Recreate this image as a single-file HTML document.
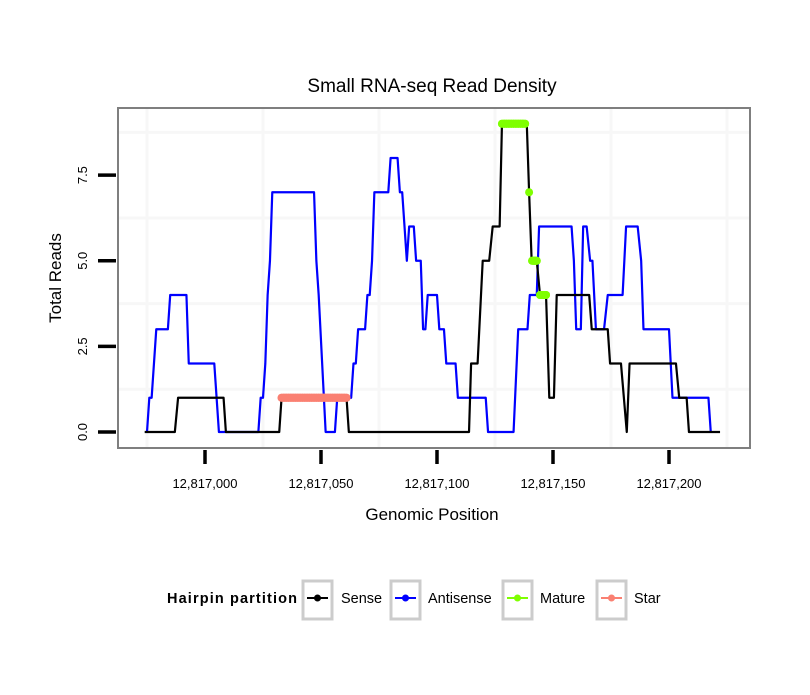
<!DOCTYPE html>
<html><head><meta charset="utf-8"><style>
body{margin:0;background:#fff;font-family:"Liberation Sans",sans-serif}
</style></head><body>
<svg id="chart" width="810" height="690" xmlns="http://www.w3.org/2000/svg">
<rect width="810" height="690" fill="#fff"/>
<text x="432" y="92" text-anchor="middle" font-size="19" fill="#000">Small RNA-seq Read Density</text>
<rect x="118" y="108" width="632" height="340" fill="#fff"/>
<g id="grid"></g>
<g id="series"></g>
<rect x="118" y="108" width="632" height="340" fill="none" stroke="#7f7f7f" stroke-width="2"/>
<g id="axes"></g>
<text x="432" y="520" text-anchor="middle" font-size="17">Genomic Position</text>
<text transform="translate(61,278) rotate(-90)" text-anchor="middle" font-size="17">Total Reads</text>
<g>
<text x="167" y="603" font-size="14.5" font-weight="bold" textLength="130">Hairpin partition</text>
<g><rect x="303" y="581" width="29" height="38" fill="#fff" stroke="#ccc" stroke-width="3"/><line x1="307" x2="328" y1="598" y2="598" stroke="#000" stroke-width="2"/><circle cx="317.5" cy="598" r="3.5" fill="#000"/><text x="341" y="603" font-size="14.5">Sense</text></g>
<g><rect x="391" y="581" width="29" height="38" fill="#fff" stroke="#ccc" stroke-width="3"/><line x1="395" x2="416" y1="598" y2="598" stroke="#0000ff" stroke-width="2"/><circle cx="405.5" cy="598" r="3.5" fill="#0000ff"/><text x="428" y="603" font-size="14.5">Antisense</text></g>
<g><rect x="503" y="581" width="29" height="38" fill="#fff" stroke="#ccc" stroke-width="3"/><line x1="507" x2="528" y1="598" y2="598" stroke="#7fff00" stroke-width="2"/><circle cx="517.5" cy="598" r="3.5" fill="#7fff00"/><text x="540" y="603" font-size="14.5">Mature</text></g>
<g><rect x="597" y="581" width="29" height="38" fill="#fff" stroke="#ccc" stroke-width="3"/><line x1="601" x2="622" y1="598" y2="598" stroke="#fa8072" stroke-width="2"/><circle cx="611.5" cy="598" r="3.5" fill="#fa8072"/><text x="634" y="603" font-size="14.5">Star</text></g>
</g>
</svg>
<script>
const BASE = 12817000;
const xTicks = [0, 50, 100, 150, 200];
const xTickLabels = ["12,817,000","12,817,050","12,817,100","12,817,150","12,817,200"];
const yTicks = [0, 2.5, 5, 7.5];
const yTickLabels = ["0.0","2.5","5.0","7.5"];
const xGrid = [-25, 25, 75, 125, 175, 225];
const yGrid = [1.25, 3.75, 6.25, 8.75];
const senseX = [-26,-13,-11.6,8,9,32,33,61,62,113.8,114.7,117.5,119.7,122.5,124,127,128,138.7,139.7,140.8,143,144.4,147,148.4,150.4,151.6,165.6,166.7,173.6,174.6,179.3,181.8,183,203,204.4,207.6,208.6,222];
const senseY = [0,0,1,1,0,0,1,1,0,0,2,2,5,5,6,6,9,9,7,5,5,4,4,1,1,4,4,3,3,2,2,0,2,2,1,1,0,0];
const antiX = [-25,-24,-23,-21,-16,-15,-8,-7,4,6,23,24,25,26,27,28,29,47,48,49,52,56,57,63,64,65,66,69,70,71,72,73,79,80,83,84,85,87,88,90,91,93,94,95,96,100,101,103,104,108,109,121,122,133,135,139,140,143,144,158,159,160,162,163,164.5,166,167,168.5,172,173.6,180,181.5,186.5,188,189,200,201.5,217,218];
const antiY = [0,1,1,3,3,4,4,2,2,0,0,1,1,2,4,5,7,7,5,4,0,0,1,1,2,2,3,3,4,4,5,7,7,8,8,7,7,5,6,6,5,5,3,3,4,4,3,3,2,2,1,1,0,0,3,3,4,4,6,6,5,3,3,6,6,5,5,3,3,4,4,6,6,5,3,3,1,1,0];
const matureX = [128,129,130,131,132,133,134,135,136,137,138,139.7,141,141.5,142,142.5,143,144.4,145,145.5,146,146.5,147];
const matureY = [9,9,9,9,9,9,9,9,9,9,9,7,5,5,5,5,5,4,4,4,4,4,4];
const starX = [33,34,35,36,37,38,39,40,41,42,43,44,45,46,47,48,49,50,51,52,53,54,55,56,57,58,59,60,61];
const starY = [1,1,1,1,1,1,1,1,1,1,1,1,1,1,1,1,1,1,1,1,1,1,1,1,1,1,1,1,1];

const NS = "http://www.w3.org/2000/svg";
function sx(v){ return 205 + v * 2.32; }
function sy(v){ return 432 - v * 34.25; }
function mk(tag, attrs, parent){ const e = document.createElementNS(NS, tag); for (const k in attrs) e.setAttribute(k, attrs[k]); parent.appendChild(e); return e; }
const grid = document.getElementById('grid'), series = document.getElementById('series'), axes = document.getElementById('axes');
xGrid.forEach(v => { const l = mk('line', {x1:sx(v), x2:sx(v), y1:109, y2:447, stroke:'#f7f7f7', 'stroke-width':3}, grid);

 });
yGrid.forEach(v => { const l = mk('line', {x1:119, x2:749, y1:sy(v), y2:sy(v), stroke:'#f7f7f7', 'stroke-width':3}, grid);

 });
function line(xs, ys, color, name){
  const p = mk('polyline', {points: xs.map((x,i)=>sx(x)+','+sy(ys[i])).join(' '), fill:'none', stroke:color, 'stroke-width':2.2, 'stroke-linejoin':'round'}, series);
  
  
}
line(antiX, antiY, '#0000ff', 'antisense-line');
line(senseX, senseY, '#000000', 'sense-line');
function pts(xs, ys, color, name){
  for (let i = 1; i < xs.length; i++) if (ys[i] === ys[i-1]) {
    const s = mk('line', {x1:sx(xs[i-1]), x2:sx(xs[i]), y1:sy(ys[i]), y2:sy(ys[i]), stroke:color, 'stroke-width':8, 'stroke-linecap':'round'}, series);
    
    
  }
  xs.forEach((x,i) => { const c = mk('circle', {cx:sx(x), cy:sy(ys[i]), r:4, fill:color}, series);
  
   });
}
pts(starX, starY, '#fa8072', 'star');
pts(matureX, matureY, '#7fff00', 'mature');
xTicks.forEach((v,i) => {
  const t = mk('line', {x1:sx(v), x2:sx(v), y1:450, y2:464, stroke:'#000', 'stroke-width':3.5}, axes);
  
  
  const tx = mk('text', {x:sx(v), y:488, 'text-anchor':'middle', 'font-size':13}, axes);
  tx.textContent = xTickLabels[i];
  
  
});
yTicks.forEach((v,i) => {
  const t = mk('line', {x1:98, x2:116, y1:sy(v), y2:sy(v), stroke:'#000', 'stroke-width':3.5}, axes);
  
  
  const tx = mk('text', {transform:'translate(87,'+sy(v)+') rotate(-90)', 'text-anchor':'middle', 'font-size':13}, axes);
  tx.textContent = yTickLabels[i];
  
  
});
</script>
</body></html>
